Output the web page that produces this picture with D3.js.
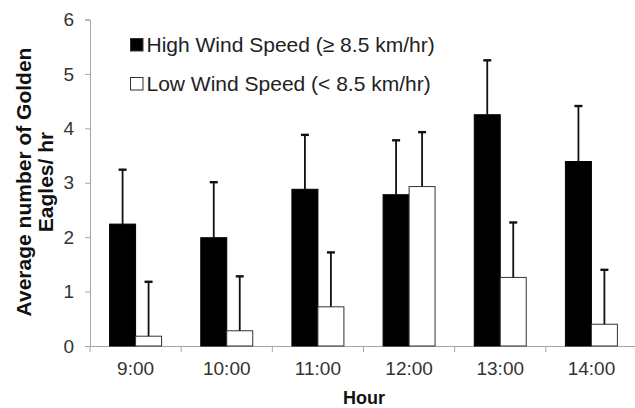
<!doctype html>
<html>
    <head>
        <meta charset="utf-8">
        <title>golden eagles by hour</title>
        <script src="https://d3js.org/d3.v7.min.js"></script>
        <style type="text/css">
            body { margin:0; background:#fff; }
            text { font-family:"Liberation Sans", Arial, sans-serif; }
        </style>
    </head>
    <body>
        <svg></svg>
        <script type="text/javascript">

            var w = 635,
                h = 408;

            var hours = ['9:00', '10:00', '11:00', '12:00', '13:00', '14:00'];
            var highWind = [2.24, 1.99, 2.88, 2.78, 4.25, 3.39];
            var highErr  = [1.00, 1.02, 1.00, 1.00, 1.00, 1.02];
            var lowWind  = [0.18, 0.28, 0.72, 2.93, 1.26, 0.40];
            var lowErr   = [1.00, 1.00, 1.00, 1.00, 1.01, 1.00];
            var yTicks = [0, 1, 2, 3, 4, 5, 6];
            var seriesNames = ['High Wind Speed (\u2265 8.5 km/hr)', 'Low Wind Speed (< 8.5 km/hr)'];

            var rows = hours.map(function(hr, i) {
                return { hour: hr, bars: [
                    { key: 'high', value: highWind[i], err: highErr[i] },
                    { key: 'low', value: lowWind[i], err: lowErr[i] }
                ]};
            });

            var fills = { high: '#000', low: '#fff' };

            var x0 = d3.scaleBand()
                .domain(hours)
                .range([90, 637])
                .padding(0);

            var x1 = d3.scaleBand()
                .domain(['high', 'low'])
                .range([0, x0.bandwidth()])
                .paddingInner(0)
                .paddingOuter(0.754);

            var y = d3.scaleLinear()
                .domain([0, 6])
                .range([346, 19.5]);

            var svg = d3.select('svg')
                .attr('width', w)
                .attr('height', h);

            // axes
            var yAxis = d3.axisLeft(y)
                .tickValues(yTicks)
                .tickFormat(d3.format('d'))
                .tickSize(5)
                .tickPadding(11);
            var gy = svg.append('g')
                .attr('transform', 'translate(90,0)')
                .call(yAxis);
            gy.select('.domain').attr('stroke', '#a6a6a6');
            gy.selectAll('.tick line').attr('stroke', '#a6a6a6');
            gy.selectAll('.tick text').attr('font-size', 19).attr('fill', '#333');

            var xAxis = d3.axisBottom(x0).tickSize(0).tickPadding(16);
            var gx = svg.append('g')
                .attr('transform', 'translate(0,346)')
                .call(xAxis);
            gx.select('.domain').attr('stroke', '#a6a6a6');
            gx.selectAll('.tick text').attr('font-size', 19).attr('fill', '#333');

            // boundary ticks between categories
            gx.selectAll('.sep')
                .data(hours)
                .enter()
                .append('line')
                .attr('x1', function(d) { return x0(d); })
                .attr('x2', function(d) { return x0(d); })
                .attr('y1', 0)
                .attr('y2', 6)
                .attr('stroke', '#a6a6a6');

            // bars
            var groups = svg.selectAll('.hour')
                .data(rows)
                .enter()
                .append('g')
                .attr('class', 'hour')
                .attr('transform', function(d) { return 'translate(' + x0(d.hour) + ',0)'; });

            groups.selectAll('rect')
                .data(function(d) { return d.bars; })
                .enter()
                .append('rect')
                .attr('x', function(d) { return x1(d.key); })
                .attr('y', function(d) { return y(d.value); })
                .attr('width', x1.bandwidth())
                .attr('height', function(d) { return y(0) - y(d.value); })
                .attr('fill', function(d) { return fills[d.key]; })
                .attr('stroke', function(d) { return d.key === 'low' ? '#333' : '#000'; })
                .attr('stroke-width', 1);

            // error bars (upper only)
            var errs = groups.selectAll('.err')
                .data(function(d) { return d.bars; })
                .enter()
                .append('g')
                .attr('class', 'err')
                .attr('stroke', '#111')
                .attr('stroke-width', 1.8);

            errs.append('line')
                .attr('x1', function(d) { return x1(d.key) + x1.bandwidth() / 2; })
                .attr('x2', function(d) { return x1(d.key) + x1.bandwidth() / 2; })
                .attr('y1', function(d) { return y(d.value); })
                .attr('y2', function(d) { return y(d.value + d.err); });

            errs.append('line')
                .attr('x1', function(d) { return x1(d.key) + x1.bandwidth() / 2 - 4; })
                .attr('x2', function(d) { return x1(d.key) + x1.bandwidth() / 2 + 4; })
                .attr('y1', function(d) { return y(d.value + d.err); })
                .attr('y2', function(d) { return y(d.value + d.err); })
                .attr('stroke-width', 2.4);

            // legend
            var legend = svg.append('g')
                .attr('transform', 'translate(130,38)');

            legend.selectAll('rect')
                .data(['high', 'low'])
                .enter()
                .append('rect')
                .attr('x', 0.5)
                .attr('y', function(d, i) { return i * 39 + 0.5; })
                .attr('width', 12.5)
                .attr('height', 12.5)
                .attr('fill', function(d) { return fills[d]; })
                .attr('stroke', '#333');

            legend.selectAll('text')
                .data(seriesNames)
                .enter()
                .append('text')
                .attr('x', 16.5)
                .attr('y', function(d, i) { return i * 39 + 6.5; })
                .attr('dy', '0.35em')
                .attr('font-size', 21)
                .attr('fill', '#222')
                .text(function(d) { return d; });

            // axis titles
            svg.append('text')
                .attr('x', 364)
                .attr('y', 404)
                .attr('text-anchor', 'middle')
                .attr('font-size', 18)
                .attr('font-weight', 'bold')
                .attr('fill', '#111')
                .text('Hour');

            var yt = svg.append('text')
                .attr('transform', 'translate(24,182) rotate(-90)')
                .attr('text-anchor', 'middle')
                .attr('font-size', 21)
                .attr('font-weight', 'bold')
                .attr('fill', '#111');
            yt.append('tspan').attr('x', 0).attr('dy', '0.35em').text('Average number of Golden');
            yt.append('tspan').attr('x', 0).attr('dy', 22).text('Eagles/ hr');
        </script>
    </body>
</html>
